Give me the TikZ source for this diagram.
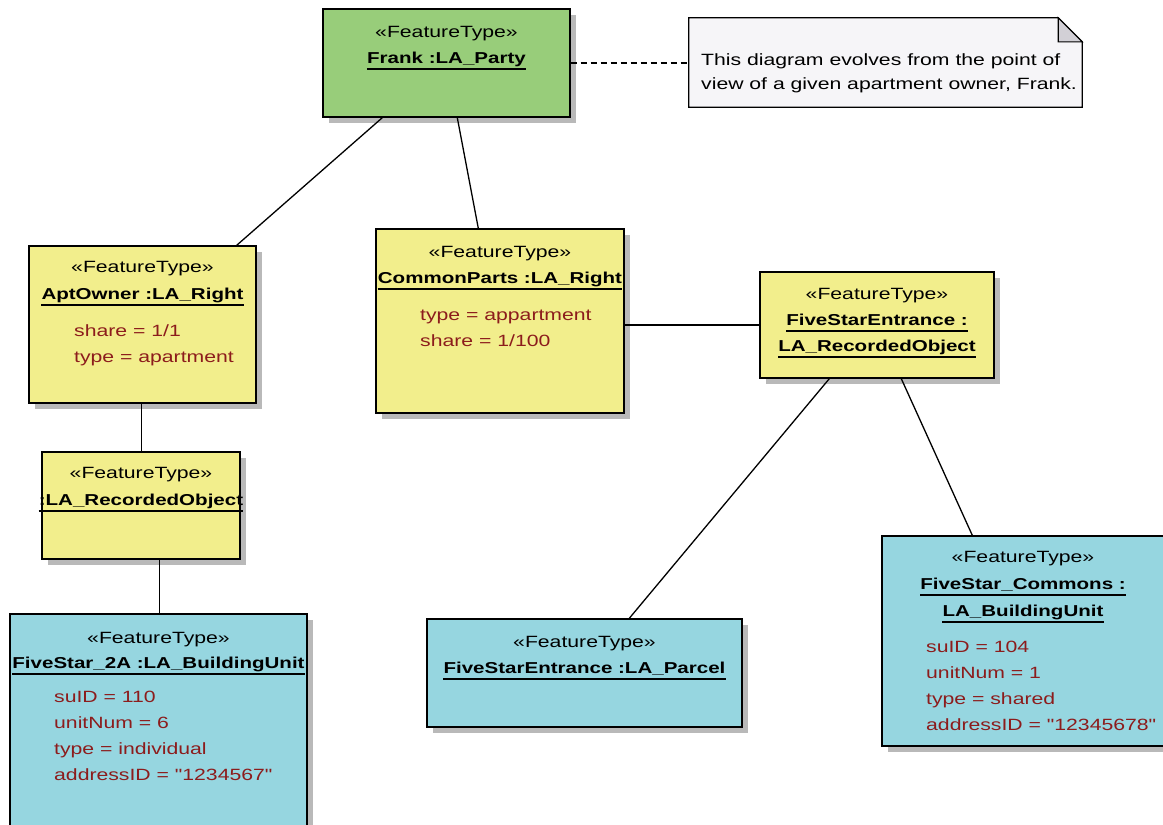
\documentclass[tikz,border=0pt]{standalone}
\usepackage{fontspec}
\setmainfont{Liberation Sans}[FakeStretch=1.3, Ligatures=TeXOff]
\usetikzlibrary{shadows,calc}
\definecolor{partygreen}{RGB}{152,205,122}
\definecolor{rightyellow}{RGB}{242,238,140}
\definecolor{unitcyan}{RGB}{150,214,224}
\definecolor{attrred}{RGB}{140,28,28}
\definecolor{shadowgray}{RGB}{185,185,185}
\definecolor{notefill}{RGB}{246,245,248}
\definecolor{foldfill}{RGB}{210,208,214}
\begin{document}
\begin{tikzpicture}[x=1pt,y=-1pt,
  box/.style={draw=black, line width=1.4pt, rectangle, inner sep=0pt,
    drop shadow={shadow xshift=6pt, shadow yshift=-6pt, fill=shadowgray, opacity=1}},
  stereo/.style={font=\fontsize{16.3}{19}\selectfont, inner sep=0pt, anchor=base},
  title/.style={font=\fontsize{15.8}{19}\selectfont\bfseries, inner sep=0pt, anchor=base},
  attr/.style={font=\fontsize{16.3}{19}\selectfont, text=attrred, inner sep=0pt, anchor=base west},
  notetext/.style={font=\fontsize{16.3}{19}\selectfont, inner sep=0pt, anchor=base west},
  conn/.style={line width=1.3pt},
  uline/.style={line width=1.3pt}]
\useasboundingbox (0,0) rectangle (1163,825);

% ---- class boxes ----
\node[box, fill=partygreen, minimum width=247pt, minimum height=108pt] (frank) at (446.5,63) {};
\node[box, fill=rightyellow, minimum width=227pt, minimum height=157pt] (apt) at (142.5,324.5) {};
\node[box, fill=rightyellow, minimum width=248pt, minimum height=184pt] (cp) at (500,321) {};
\node[box, fill=rightyellow, minimum width=234pt, minimum height=106pt] (fse) at (877,325) {};
\node[box, fill=rightyellow, minimum width=198pt, minimum height=107pt] (ro) at (141,505.5) {};
\node[box, fill=unitcyan, minimum width=297pt, minimum height=226pt] (u2a) at (158.5,727) {};
\node[box, fill=unitcyan, minimum width=315pt, minimum height=108pt] (parcel) at (584.5,673) {};
\node[box, fill=unitcyan, minimum width=282pt, minimum height=210pt] (commons) at (1023,641) {};

% ---- note ----
\node[rectangle, inner sep=0pt, minimum width=393pt, minimum height=89pt] (note) at (885.5,62.5) {};
\draw[line width=1.3pt, fill=notefill] (note.south west) -- (note.north west)
  -- ([xshift=-24pt]note.north east) -- ([yshift=-24pt]note.north east)
  -- (note.south east) -- cycle;
\draw[line width=1.1pt, fill=foldfill] ([xshift=-24pt]note.north east)
  -- ([xshift=-24pt,yshift=-24pt]note.north east) -- ([yshift=-24pt]note.north east) -- cycle;
\node[notetext] (note1) at (701,65) {This diagram evolves from the point of};
\node[notetext] (note2) at (701,89) {view of a given apartment owner, Frank.};

% ---- connectors ----
\draw[conn] ([xshift=60pt]frank.south west) -- ([xshift=-20pt]apt.north east);
\draw[conn] ([xshift=135pt]frank.south west) -- ([xshift=103pt]cp.north west);
\draw[conn] (cp.east |- fse.west) -- (fse.west);
\draw[conn] ([xshift=70pt]fse.south west) -- ([xshift=203pt]parcel.north west);
\draw[conn] ([xshift=142pt]fse.south west) -- ([xshift=91pt]commons.north west);
\draw[conn] ([xshift=113pt]apt.south west) -- ([xshift=100pt]ro.north west);
\draw[conn] ([xshift=118pt]ro.south west) -- ([xshift=150pt]u2a.north west);
\draw[conn, dashed, dash pattern=on 6pt off 4pt] (frank.east) -- (frank.east -| note.west);

% ---- texts: Frank ----
\node[stereo] (frankst) at (446.5,37) {«FeatureType»};
\node[title] (frankname) at (446.5,63) {Frank :LA\_Party};
\draw[uline] ([yshift=-6pt]frankname.base west) -- ([yshift=-6pt]frankname.base east);

% ---- AptOwner ----
\node[stereo] (aptst) at (142.5,272) {«FeatureType»};
\node[title] (aptname) at (142.5,299) {AptOwner :LA\_Right};
\draw[uline] ([yshift=-6pt]aptname.base west) -- ([yshift=-6pt]aptname.base east);
\node[attr] (apta1) at (74,336) {share = 1/1};
\node[attr] (apta2) at (74,362) {type = apartment};

% ---- CommonParts ----
\node[stereo] (cpst) at (500,257) {«FeatureType»};
\node[title] (cpname) at (500,283) {CommonParts :LA\_Right};
\draw[uline] ([yshift=-6pt]cpname.base west) -- ([yshift=-6pt]cpname.base east);
\node[attr] (cpa1) at (420,320) {type = appartment};
\node[attr] (cpa2) at (420,346) {share = 1/100};

% ---- FiveStarEntrance recorded object ----
\node[stereo] (fsest) at (877,299) {«FeatureType»};
\node[title] (fsename1) at (877,325) {FiveStarEntrance :};
\draw[uline] ([yshift=-6pt]fsename1.base west) -- ([yshift=-6pt]fsename1.base east);
\node[title] (fsename2) at (877,351) {LA\_RecordedObject};
\draw[uline] ([yshift=-6pt]fsename2.base west) -- ([yshift=-6pt]fsename2.base east);

% ---- anonymous recorded object ----
\node[stereo] (rost) at (141,478) {«FeatureType»};
\node[title] (roname) at (141,505) {:LA\_RecordedObject};
\draw[uline] ([yshift=-6pt]roname.base west) -- ([yshift=-6pt]roname.base east);

% ---- FiveStar_2A ----
\node[stereo] (u2ast) at (158.5,643) {«FeatureType»};
\node[title] (u2aname) at (158.5,668) {FiveStar\_2A :LA\_BuildingUnit};
\draw[uline] ([yshift=-6pt]u2aname.base west) -- ([yshift=-6pt]u2aname.base east);
\node[attr] (u2a1) at (54,702) {suID = 110};
\node[attr] (u2a2) at (54,728) {unitNum = 6};
\node[attr] (u2a3) at (54,754) {type = individual};
\node[attr] (u2a4) at (54,780) {addressID = "1234567"};

% ---- Parcel ----
\node[stereo] (parcelst) at (584.5,647) {«FeatureType»};
\node[title] (parcelname) at (584.5,673) {FiveStarEntrance :LA\_Parcel};
\draw[uline] ([yshift=-6pt]parcelname.base west) -- ([yshift=-6pt]parcelname.base east);

% ---- FiveStar_Commons ----
\node[stereo] (comst) at (1023,562) {«FeatureType»};
\node[title] (comname1) at (1023,589) {FiveStar\_Commons :};
\draw[uline] ([yshift=-6pt]comname1.base west) -- ([yshift=-6pt]comname1.base east);
\node[title] (comname2) at (1023,616) {LA\_BuildingUnit};
\draw[uline] ([yshift=-6pt]comname2.base west) -- ([yshift=-6pt]comname2.base east);
\node[attr] (com1) at (926,652) {suID = 104};
\node[attr] (com2) at (926,678) {unitNum = 1};
\node[attr] (com3) at (926,704) {type = shared};
\node[attr] (com4) at (926,730) {addressID = "12345678"};
\end{tikzpicture}
\end{document}
